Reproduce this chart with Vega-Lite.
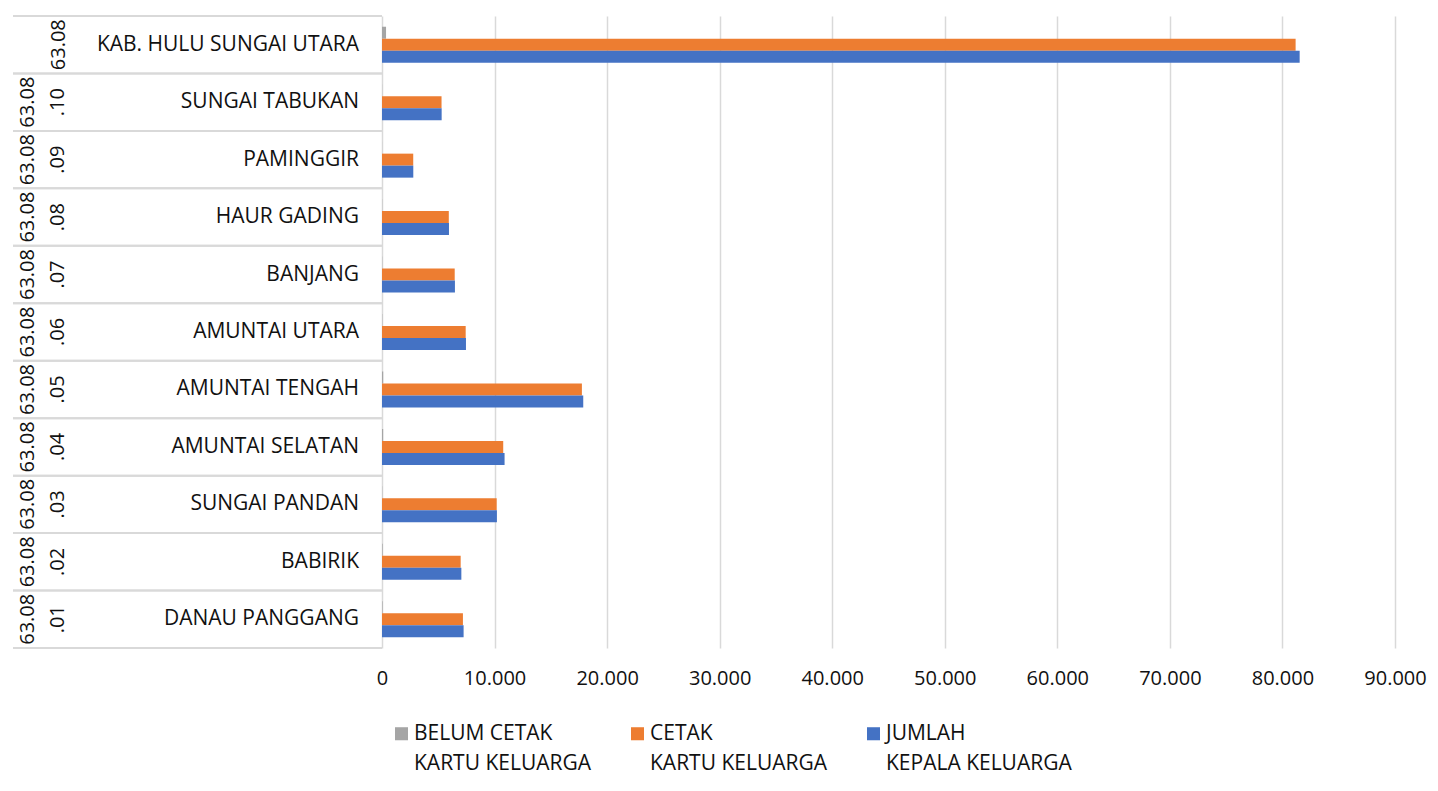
{
  "$schema": "https://vega.github.io/schema/vega-lite/v6.json",
  "padding": {"left": 12, "top": 15, "right": 0, "bottom": 10},
  "background": "white",
  "bounds": "flush",
  "spacing": 0,
  "config": {
    "font": "Open Sans",
    "view": {"stroke": null},
    "style": {"guide-label": {"lineHeight": 30}}
  },
  "datasets": {
    "wilayah": [
      {"kode": "63.08", "nama": "KAB. HULU SUNGAI UTARA"},
      {"kode": "63.08\n.10", "nama": "SUNGAI TABUKAN"},
      {"kode": "63.08\n.09", "nama": "PAMINGGIR"},
      {"kode": "63.08\n.08", "nama": "HAUR GADING"},
      {"kode": "63.08\n.07", "nama": "BANJANG"},
      {"kode": "63.08\n.06", "nama": "AMUNTAI UTARA"},
      {"kode": "63.08\n.05", "nama": "AMUNTAI TENGAH"},
      {"kode": "63.08\n.04", "nama": "AMUNTAI SELATAN"},
      {"kode": "63.08\n.03", "nama": "SUNGAI PANDAN"},
      {"kode": "63.08\n.02", "nama": "BABIRIK"},
      {"kode": "63.08\n.01", "nama": "DANAU PANGGANG"}
    ],
    "kk": [
      {"nama": "KAB. HULU SUNGAI UTARA", "seri": "BELUM CETAK KARTU KELUARGA", "nilai": 360},
      {"nama": "KAB. HULU SUNGAI UTARA", "seri": "CETAK KARTU KELUARGA", "nilai": 81170},
      {"nama": "KAB. HULU SUNGAI UTARA", "seri": "JUMLAH KEPALA KELUARGA", "nilai": 81530},
      {"nama": "SUNGAI TABUKAN", "seri": "BELUM CETAK KARTU KELUARGA", "nilai": 10},
      {"nama": "SUNGAI TABUKAN", "seri": "CETAK KARTU KELUARGA", "nilai": 5290},
      {"nama": "SUNGAI TABUKAN", "seri": "JUMLAH KEPALA KELUARGA", "nilai": 5300},
      {"nama": "PAMINGGIR", "seri": "BELUM CETAK KARTU KELUARGA", "nilai": 5},
      {"nama": "PAMINGGIR", "seri": "CETAK KARTU KELUARGA", "nilai": 2775},
      {"nama": "PAMINGGIR", "seri": "JUMLAH KEPALA KELUARGA", "nilai": 2780},
      {"nama": "HAUR GADING", "seri": "BELUM CETAK KARTU KELUARGA", "nilai": 15},
      {"nama": "HAUR GADING", "seri": "CETAK KARTU KELUARGA", "nilai": 5935},
      {"nama": "HAUR GADING", "seri": "JUMLAH KEPALA KELUARGA", "nilai": 5950},
      {"nama": "BANJANG", "seri": "BELUM CETAK KARTU KELUARGA", "nilai": 20},
      {"nama": "BANJANG", "seri": "CETAK KARTU KELUARGA", "nilai": 6460},
      {"nama": "BANJANG", "seri": "JUMLAH KEPALA KELUARGA", "nilai": 6480},
      {"nama": "AMUNTAI UTARA", "seri": "BELUM CETAK KARTU KELUARGA", "nilai": 25},
      {"nama": "AMUNTAI UTARA", "seri": "CETAK KARTU KELUARGA", "nilai": 7435},
      {"nama": "AMUNTAI UTARA", "seri": "JUMLAH KEPALA KELUARGA", "nilai": 7460},
      {"nama": "AMUNTAI TENGAH", "seri": "BELUM CETAK KARTU KELUARGA", "nilai": 110},
      {"nama": "AMUNTAI TENGAH", "seri": "CETAK KARTU KELUARGA", "nilai": 17760},
      {"nama": "AMUNTAI TENGAH", "seri": "JUMLAH KEPALA KELUARGA", "nilai": 17880},
      {"nama": "AMUNTAI SELATAN", "seri": "BELUM CETAK KARTU KELUARGA", "nilai": 105},
      {"nama": "AMUNTAI SELATAN", "seri": "CETAK KARTU KELUARGA", "nilai": 10770},
      {"nama": "AMUNTAI SELATAN", "seri": "JUMLAH KEPALA KELUARGA", "nilai": 10890},
      {"nama": "SUNGAI PANDAN", "seri": "BELUM CETAK KARTU KELUARGA", "nilai": 20},
      {"nama": "SUNGAI PANDAN", "seri": "CETAK KARTU KELUARGA", "nilai": 10190},
      {"nama": "SUNGAI PANDAN", "seri": "JUMLAH KEPALA KELUARGA", "nilai": 10210},
      {"nama": "BABIRIK", "seri": "BELUM CETAK KARTU KELUARGA", "nilai": 55},
      {"nama": "BABIRIK", "seri": "CETAK KARTU KELUARGA", "nilai": 6990},
      {"nama": "BABIRIK", "seri": "JUMLAH KEPALA KELUARGA", "nilai": 7050},
      {"nama": "DANAU PANGGANG", "seri": "BELUM CETAK KARTU KELUARGA", "nilai": 50},
      {"nama": "DANAU PANGGANG", "seri": "CETAK KARTU KELUARGA", "nilai": 7190},
      {"nama": "DANAU PANGGANG", "seri": "JUMLAH KEPALA KELUARGA", "nilai": 7250}
    ]
  },
  "hconcat": [
    {
      "width": 369,
      "height": 632,
      "data": {"name": "wilayah"},
      "layer": [
        {
          "mark": {"type": "rule", "color": "#d9d9d9", "strokeWidth": 2},
          "encoding": {
            "y": {"field": "nama", "type": "nominal", "sort": null, "bandPosition": 0, "scale": {"paddingInner": 0, "paddingOuter": 0}, "axis": null}
          }
        },
        {
          "mark": {"type": "rule", "color": "#d9d9d9", "strokeWidth": 2},
          "encoding": {
            "y": {"field": "nama", "type": "nominal", "sort": null, "bandPosition": 1, "scale": {"paddingInner": 0, "paddingOuter": 0}, "axis": null}
          }
        },
        {
          "transform": [{"filter": "indexof(datum.kode, '\\n') >= 0"}],
          "mark": {"type": "text", "angle": 270, "fontSize": 20, "lineBreak": "\n", "lineHeight": 30, "align": "center", "baseline": "bottom", "color": "#111111"},
          "encoding": {
            "y": {"field": "nama", "type": "nominal", "sort": null, "scale": {"paddingInner": 0, "paddingOuter": 0}, "axis": null},
            "x": {"datum": "kode", "type": "nominal", "scale": {"type": "point", "domain": ["kode", "nama"], "range": [25, 346], "padding": 0}, "axis": null},
            "text": {"field": "kode", "type": "nominal"}
          }
        },
        {
          "transform": [{"filter": "indexof(datum.kode, '\\n') < 0"}],
          "mark": {"type": "text", "angle": 270, "fontSize": 20, "dy": 31, "align": "center", "baseline": "bottom", "color": "#111111"},
          "encoding": {
            "y": {"field": "nama", "type": "nominal", "sort": null, "scale": {"paddingInner": 0, "paddingOuter": 0}, "axis": null},
            "x": {"datum": "kode", "type": "nominal", "scale": {"type": "point", "domain": ["kode", "nama"], "range": [25, 346], "padding": 0}, "axis": null},
            "text": {"field": "kode", "type": "nominal"}
          }
        },
        {
          "mark": {"type": "text", "fontSize": 21, "align": "right", "baseline": "middle", "color": "#111111"},
          "encoding": {
            "y": {"field": "nama", "type": "nominal", "sort": null, "scale": {"paddingInner": 0, "paddingOuter": 0}, "axis": null},
            "x": {"datum": "nama", "type": "nominal", "scale": {"type": "point", "domain": ["kode", "nama"], "range": [25, 346], "padding": 0}, "axis": null},
            "text": {"field": "nama", "type": "nominal"}
          }
        }
      ]
    },
    {
      "width": 1013,
      "height": 632,
      "data": {"name": "kk"},
      "mark": {"type": "bar"},
      "encoding": {
        "y": {"field": "nama", "type": "nominal", "sort": null, "scale": {"paddingInner": 0, "paddingOuter": 0}, "axis": null},
        "yOffset": {"field": "seri", "type": "nominal", "scale": {"domain": ["BELUM CETAK KARTU KELUARGA", "CETAK KARTU KELUARGA", "JUMLAH KEPALA KELUARGA"], "paddingInner": 0, "paddingOuter": 0.894}},
        "x": {
          "field": "nilai", "type": "quantitative",
          "scale": {"domain": [0, 90000], "nice": false},
          "axis": {
            "values": [0, 10000, 20000, 30000, 40000, 50000, 60000, 70000, 80000, 90000],
            "grid": true, "gridColor": "#d9d9d9", "gridWidth": 1.5,
            "domain": false, "ticks": false, "labelFlush": false,
            "labelFontSize": 20, "labelColor": "#111111", "labelPadding": 20,
            "labelExpr": "replace(format(datum.value, ','), ',', '.')",
            "title": null
          }
        },
        "color": {
          "field": "seri", "type": "nominal",
          "scale": {"domain": ["BELUM CETAK KARTU KELUARGA", "CETAK KARTU KELUARGA", "JUMLAH KEPALA KELUARGA"], "range": ["#a5a5a5", "#ed7d31", "#4472c4"]},
          "legend": {
            "orient": "none", "legendX": 378, "legendY": 707,
            "direction": "horizontal", "columns": 3, "title": null,
            "symbolType": "square", "symbolSize": 170, "symbolStrokeWidth": 0,
            "labelFontSize": 21, "labelColor": "#111111", "labelOffset": 2,
            "labelLimit": 300, "columnPadding": 35, "padding": 0,
            "labelBaseline": "middle",
            "labelExpr": "datum.label == 'BELUM CETAK KARTU KELUARGA' ? ['BELUM CETAK', 'KARTU KELUARGA'] : datum.label == 'CETAK KARTU KELUARGA' ? ['CETAK', 'KARTU KELUARGA'] : ['JUMLAH', 'KEPALA KELUARGA']"
          }
        }
      }
    }
  ]
}
